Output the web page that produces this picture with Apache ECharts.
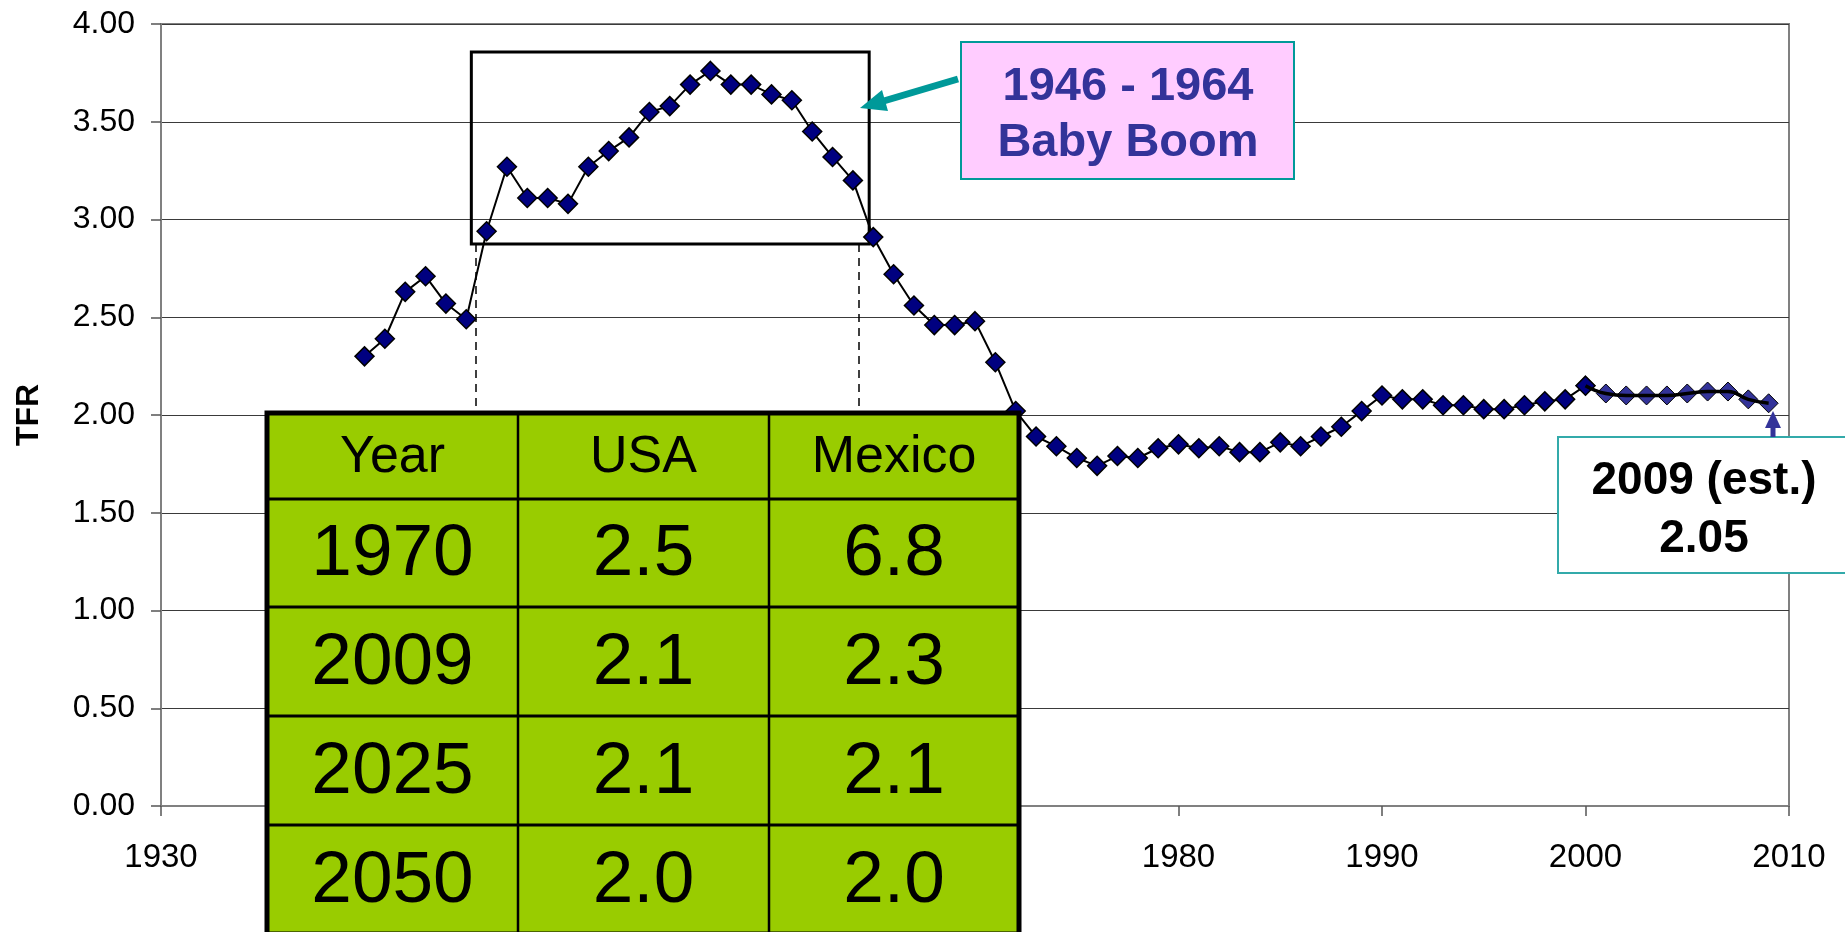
<!DOCTYPE html>
<html>
<head>
<meta charset="utf-8">
<title>TFR</title>
<script src="https://cdn.jsdelivr.net/npm/echarts@6/dist/echarts.min.js"></script>
<style>
  html, body { margin: 0; padding: 0; background: #fff; }
  #chart { width: 1845px; height: 932px; }
</style>
</head>
<body>
<div id="chart"></div>
<script>
  // US total fertility rate
  const years = [
    1940, 1941, 1942, 1943, 1944, 1945, 1946, 1947, 1948, 1949,
    1950, 1951, 1952, 1953, 1954, 1955, 1956, 1957, 1958, 1959,
    1960, 1961, 1962, 1963, 1964, 1965, 1966, 1967, 1968, 1969,
    1970, 1971, 1972, 1973, 1974, 1975, 1976, 1977, 1978, 1979,
    1980, 1981, 1982, 1983, 1984, 1985, 1986, 1987, 1988, 1989,
    1990, 1991, 1992, 1993, 1994, 1995, 1996, 1997, 1998, 1999,
    2000, 2001, 2002, 2003, 2004, 2005, 2006, 2007, 2008, 2009
  ]
  const tfr = [
    2.30, 2.39, 2.63, 2.71, 2.57, 2.49, 2.94, 3.27, 3.11, 3.11,
    3.08, 3.27, 3.35, 3.42, 3.55, 3.58, 3.69, 3.76, 3.69, 3.69,
    3.64, 3.61, 3.45, 3.32, 3.20, 2.91, 2.72, 2.56, 2.46, 2.46,
    2.48, 2.27, 2.02, 1.89, 1.84, 1.78, 1.74, 1.79, 1.78, 1.83,
    1.85, 1.83, 1.84, 1.81, 1.81, 1.86, 1.84, 1.89, 1.94, 2.02,
    2.10, 2.08, 2.08, 2.05, 2.05, 2.03, 2.03, 2.05, 2.07, 2.08,
    2.15, 2.11, 2.10, 2.10, 2.10, 2.11, 2.12, 2.12, 2.08, 2.06
  ]
  const yTicks = ['0.00', '0.50', '1.00', '1.50', '2.00', '2.50', '3.00', '3.50', '4.00']
  const xTicks = [1930, 1940, 1950, 1960, 1970, 1980, 1990, 2000, 2010]

  // inset table
  const tableHeader = ['Year', 'USA', 'Mexico']
  const tableRows = [
    ['1970', '2.5', '6.8'],
    ['2009', '2.1', '2.3'],
    ['2025', '2.1', '2.1'],
    ['2050', '2.0', '2.0']
  ]

  const boomStart = 1946
  const boomEnd = 1964
  const estYear = 2009
  const estValue = '2.05'
  const splitIdx = years.indexOf(2000)

  const font = '"Liberation Sans", Arial, sans-serif'
  const pts = (xs, ys) => xs.map((x, i) => [x, ys[i]])

  const chart = echarts.init(document.getElementById('chart'))

  // table pieces, laid out in pixels
  const colX = [267, 518, 769, 1019]
  const rowY = [413, 499, 607, 716, 825, 934]
  const tableEls = []
  tableEls.push({
    type: 'rect', z: 100,
    shape: { x: colX[0], y: rowY[0], width: colX[3] - colX[0], height: rowY[5] - rowY[0] },
    style: { fill: '#99CC00', stroke: null }
  })
  colX.slice(1, 3).forEach((x) => {
    tableEls.push({ type: 'line', z: 101, shape: { x1: x, y1: rowY[0], x2: x, y2: rowY[5] }, style: { stroke: '#000', lineWidth: 2.5 } })
  })
  rowY.slice(1, 5).forEach((y) => {
    tableEls.push({ type: 'line', z: 101, shape: { x1: colX[0], y1: y, x2: colX[3], y2: y }, style: { stroke: '#000', lineWidth: 3 } })
  })
  tableEls.push({
    type: 'rect', z: 102,
    shape: { x: colX[0], y: rowY[0], width: colX[3] - colX[0], height: rowY[5] - rowY[0] },
    style: { fill: null, stroke: '#000', lineWidth: 5 }
  })
  const allRows = [tableHeader].concat(tableRows)
  allRows.forEach((row, r) => {
    row.forEach((txt, c) => {
      tableEls.push({
        type: 'text', z: 103,
        x: (colX[c] + colX[c + 1]) / 2,
        y: (rowY[r] + rowY[r + 1]) / 2 + 2,
        style: {
          text: txt, fill: '#000', font: (r === 0 ? '52px ' : '73px ') + font,
          align: 'center', verticalAlign: 'middle'
        }
      })
    })
  })

  // callouts
  const calloutEls = [
    {
      type: 'rect', z: 100,
      shape: { x: 961, y: 42, width: 333, height: 137 },
      style: { fill: '#FFCCFF', stroke: '#009999', lineWidth: 2 }
    },
    {
      type: 'text', z: 101, x: 1128, y: 87,
      style: { text: boomStart + ' - ' + boomEnd, fill: '#333399', font: 'bold 47px ' + font, align: 'center', verticalAlign: 'middle' }
    },
    {
      type: 'text', z: 101, x: 1128, y: 143,
      style: { text: 'Baby Boom', fill: '#333399', font: 'bold 47px ' + font, align: 'center', verticalAlign: 'middle' }
    },
    {
      type: 'line', z: 100,
      shape: { x1: 958, y1: 79, x2: 882, y2: 101.5 },
      style: { stroke: '#009999', lineWidth: 7 }
    },
    {
      type: 'polygon', z: 100,
      shape: { points: [[860, 108], [888, 111], [882, 90]] },
      style: { fill: '#009999' }
    },
    {
      type: 'rect', z: 100,
      shape: { x: 1558, y: 437, width: 300, height: 136 },
      style: { fill: '#fff', stroke: '#33AAAA', lineWidth: 2 }
    },
    {
      type: 'text', z: 101, x: 1704, y: 481,
      style: { text: estYear + ' (est.)', fill: '#000', font: 'bold 46px ' + font, align: 'center', verticalAlign: 'middle' }
    },
    {
      type: 'text', z: 101, x: 1704, y: 539,
      style: { text: estValue, fill: '#000', font: 'bold 46px ' + font, align: 'center', verticalAlign: 'middle' }
    },
    {
      type: 'rect', z: 100,
      shape: { x: 1770.5, y: 426, width: 5, height: 11 },
      style: { fill: '#333399' }
    },
    {
      type: 'polygon', z: 100,
      shape: { points: [[1773, 411], [1765, 428], [1781, 428]] },
      style: { fill: '#333399' }
    }
  ]

  chart.setOption({
    animation: false,
    backgroundColor: '#fff',
    grid: {
      left: 161, right: 56, top: 24, bottom: 126,
      show: true, borderColor: '#808080', borderWidth: 2
    },
    xAxis: {
      type: 'value',
      min: xTicks[0],
      max: xTicks[xTicks.length - 1],
      interval: 10,
      axisLine: { lineStyle: { color: '#808080', width: 2 } },
      axisTick: { show: true, length: 10, lineStyle: { color: '#555', width: 1.5 } },
      splitLine: { show: false },
      axisLabel: {
        color: '#000', fontSize: 33, fontFamily: font, margin: 35,
        formatter: (v) => String(v)
      }
    },
    yAxis: {
      type: 'value',
      min: 0,
      max: 4,
      interval: 0.5,
      name: 'TFR',
      nameLocation: 'middle',
      nameRotate: 90,
      nameGap: 116,
      nameTextStyle: { color: '#000', fontSize: 32, fontWeight: 'bold', fontFamily: font },
      axisLine: { show: true, lineStyle: { color: '#808080', width: 2 } },
      axisTick: { show: true, length: 10, lineStyle: { color: '#555', width: 1.5 } },
      splitLine: { show: true, lineStyle: { color: '#3a3a3a', width: 1.2 } },
      axisLabel: {
        color: '#000', fontSize: 32, fontFamily: font, margin: 26,
        formatter: (v) => yTicks[Math.round(v * 2)]
      }
    },
    graphic: { elements: tableEls.concat(calloutEls) },
    series: [
      {
        name: 'TFR',
        type: 'line',
        z: 3,
        data: pts(years.slice(0, splitIdx + 1), tfr.slice(0, splitIdx + 1)),
        symbol: 'diamond',
        symbolSize: 19,
        itemStyle: { color: '#000080', borderColor: '#000', borderWidth: 1.5 },
        lineStyle: { color: '#000', width: 2 },
        markArea: {
          silent: true,
          itemStyle: { color: 'rgba(0,0,0,0)', borderColor: '#000', borderWidth: 3 },
          data: [[{ coord: [1945.25, 3.857] }, { coord: [1964.8, 2.875] }]]
        },
        markLine: {
          silent: true,
          symbol: 'none',
          label: { show: false },
          lineStyle: { color: '#000', width: 1.5, type: [8, 6] },
          data: [
            [{ coord: [1945.45, 2.875] }, { coord: [1945.45, 0] }],
            [{ coord: [1964.3, 2.875] }, { coord: [1964.3, 0] }]
          ]
        }
      },
      {
        name: 'TFR recent',
        type: 'line',
        z: 2,
        data: pts(years.slice(splitIdx), tfr.slice(splitIdx)),
        symbol: 'diamond',
        symbolSize: 19,
        itemStyle: { color: '#333399', borderColor: '#000', borderWidth: 1 },
        lineStyle: { color: '#000', width: 1 }
      },
      {
        name: 'TFR trend',
        type: 'line',
        z: 4,
        data: pts(years.slice(splitIdx), tfr.slice(splitIdx)),
        smooth: 0.5,
        showSymbol: false,
        lineStyle: { color: '#000', width: 3.5 }
      }
    ]
  })
</script>
</body>
</html>
